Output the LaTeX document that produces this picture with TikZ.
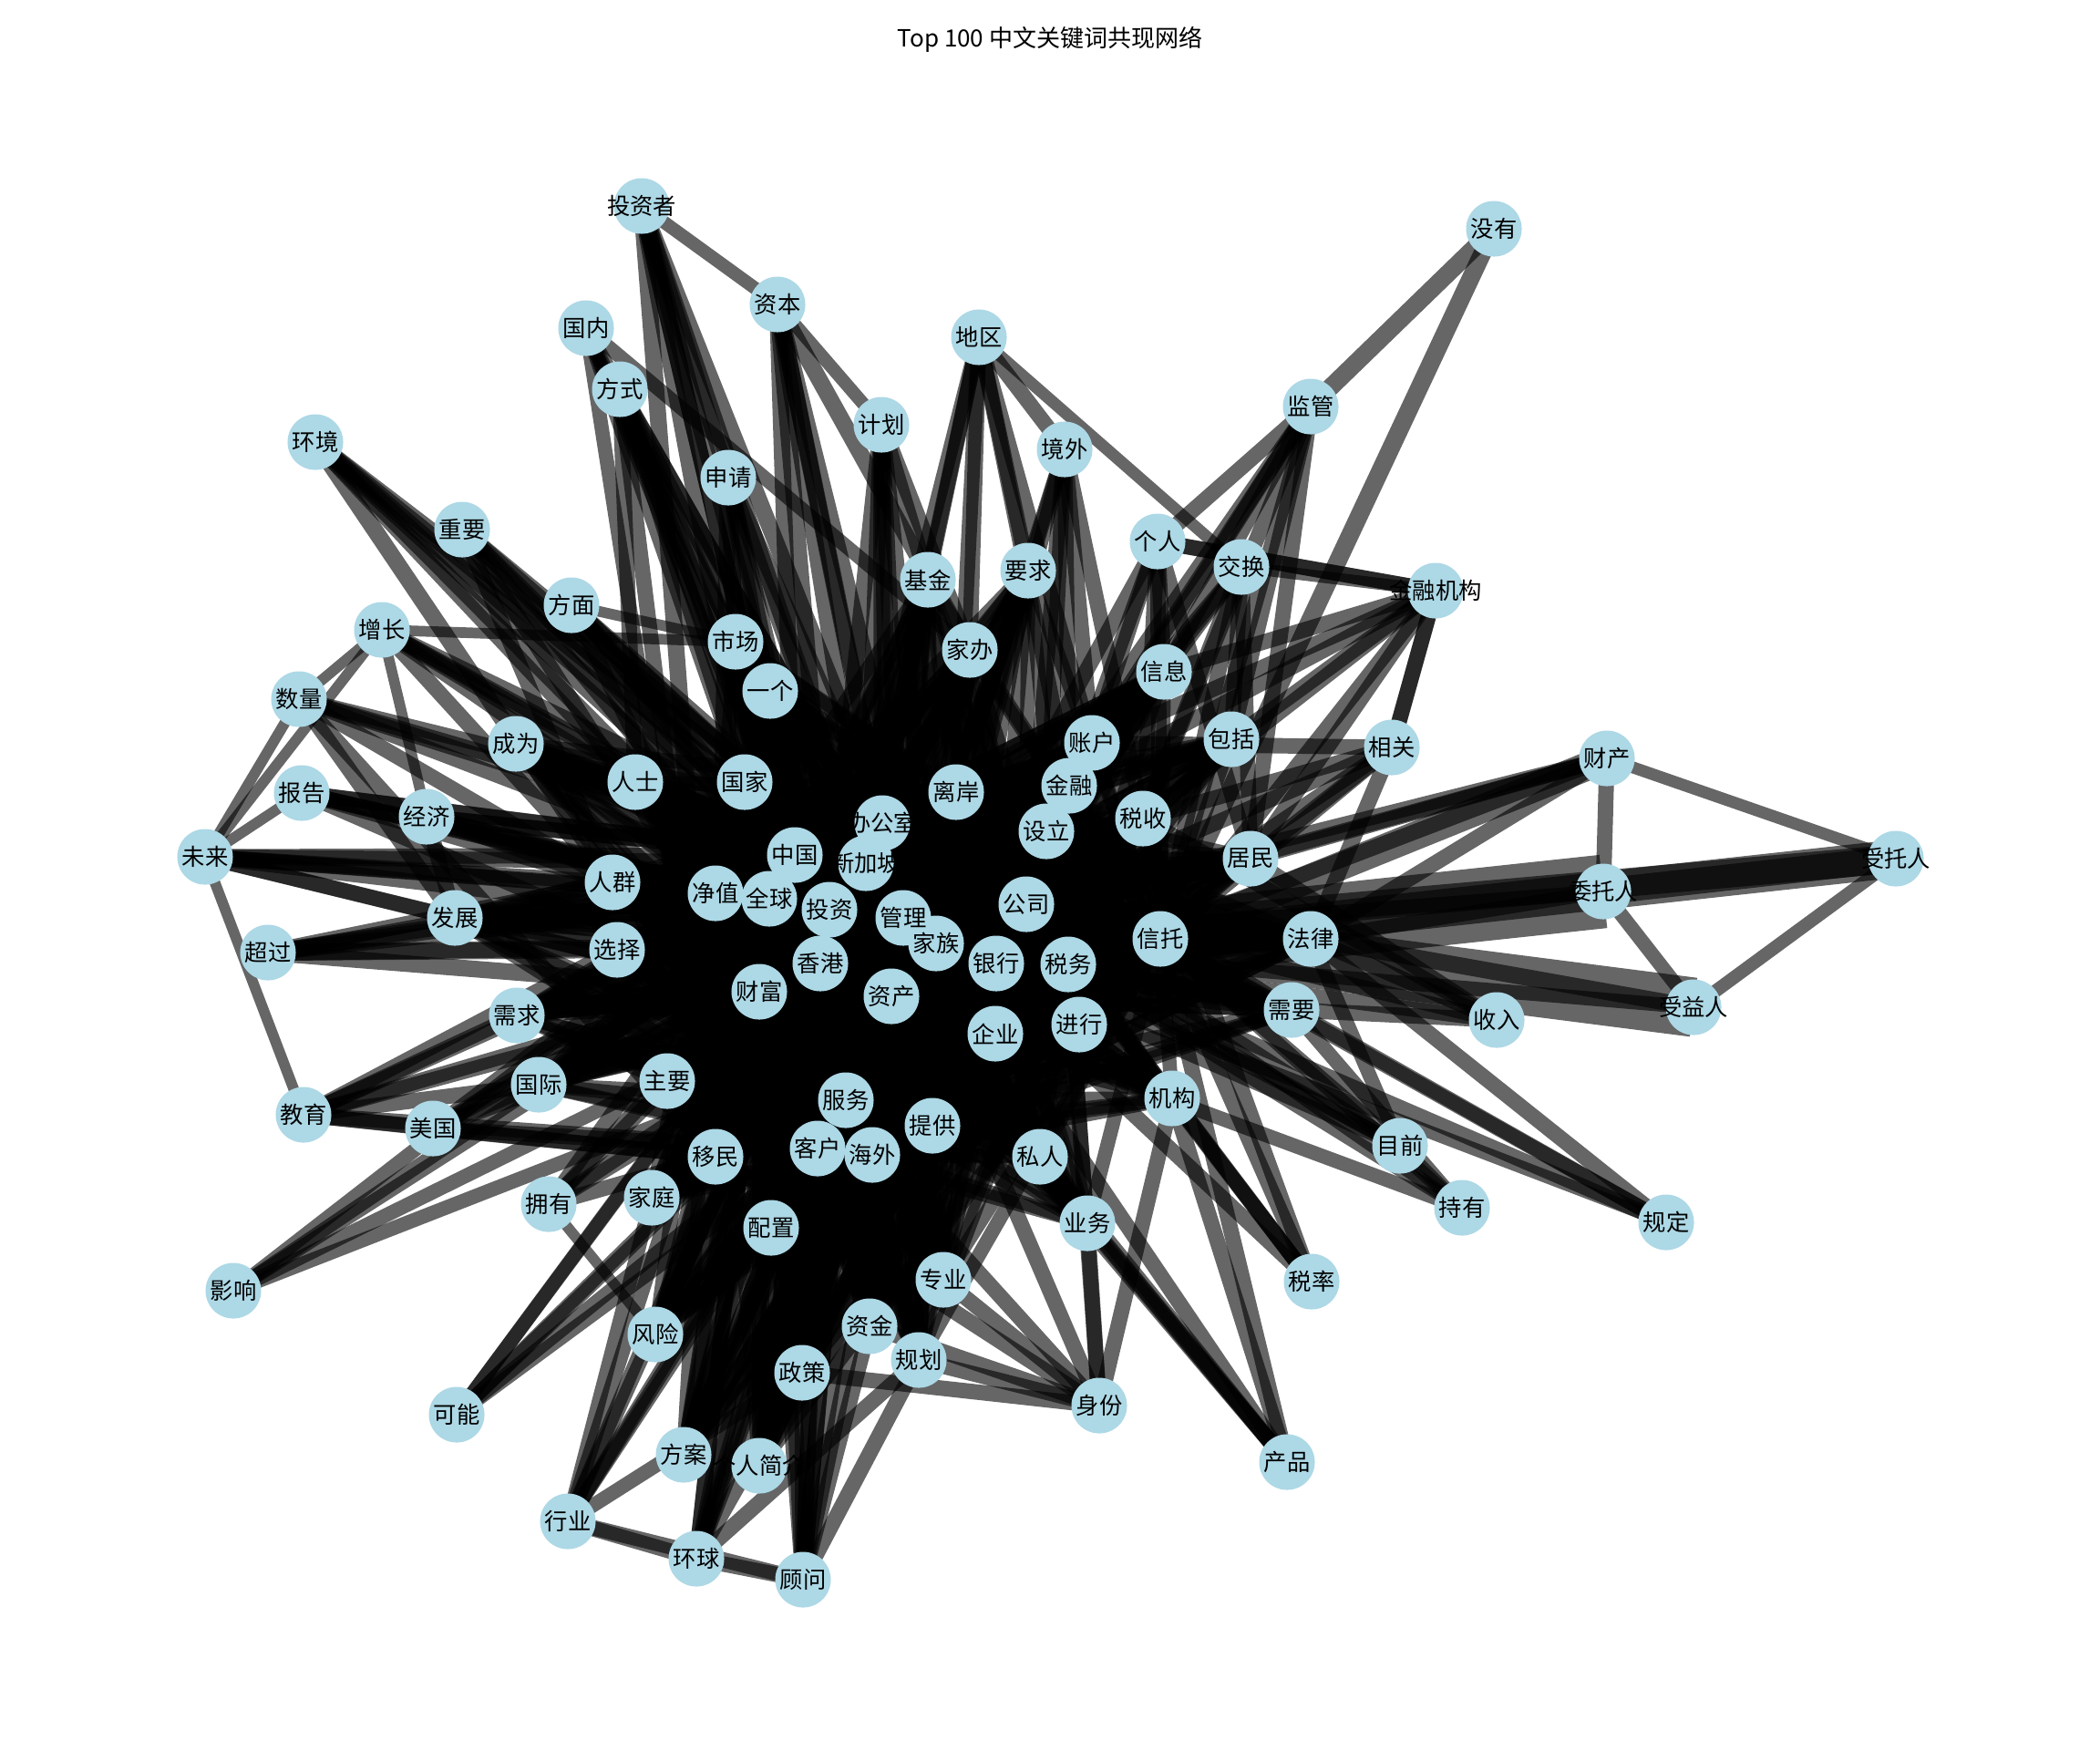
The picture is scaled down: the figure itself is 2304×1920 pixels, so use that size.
\documentclass[tikz,border=0pt]{standalone}
\usepackage{fontspec}
\setmainfont{Noto Sans CJK SC}
\definecolor{nodeblue}{RGB}{173,216,230}
\pgfdeclarelayer{bgl}
\pgfdeclarelayer{edges}
\pgfsetlayers{bgl,edges,main}
\begin{document}
\begin{tikzpicture}[x=0.01cm,y=-0.01cm,
  kw/.style={circle,fill=nodeblue,minimum size=0.61cm,inner sep=0pt},
  lbl/.style={inner sep=0pt,font=\fontsize{7.2}{8}\selectfont},
  edge/.style={draw=black,draw opacity=0.6},
  ttl/.style={inner sep=0pt,font=\fontsize{7.4}{9}\selectfont}]
\begin{pgfonlayer}{bgl}
\fill[white] (0,0) rectangle (2304,1920);
\end{pgfonlayer}
\useasboundingbox (0,0) rectangle (2304,1920);
\node[ttl] (title) at (1152,43) {Top 100 中文关键词共现网络};
\def\kwlist{tzz/投资者/704/226, my/没有/1639/251, zb/资本/853/334, gn/国内/643/360, dq/地区/1074/370, fs/方式/680/427, jg/监管/1438/446, hj/环境/346/485, jh/计划/967/466, jw/境外/1168/493, sq/申请/799/524, zy/重要/507/581, gr/个人/1270/594, jhn/交换/1362/622, jrjg/金融机构/1575/648, jj/基金/1018/636, yq/要求/1128/626, fm/方面/627/664, zz/增长/419/691, sc/市场/807/704, jb/家办/1064/713, xx/信息/1277/737, sl/数量/328/767, yg/一个/845/758, cw/成为/566/816, zh/账户/1198/815, bk/包括/1351/811, xg/相关/1527/820, cc/财产/1763/832, rs/人士/697/858, gj/国家/817/858, la/离岸/1049/869, jr/金融/1173/862, bg/报告/331/870, jjj/经济/468/896, bgs/办公室/968/903, ss/税收/1254/898, sli/设立/1148/912, wl/未来/225/940, zg/中国/872/938, xjp/新加坡/950/947, jm/居民/1372/942, str/受托人/2080/942, wtr/委托人/1759/978, rq/人群/672/968, jz/净值/785/980, qq/全球/844/986, tz/投资/910/998, gl/管理/991/1007, gs/公司/1126/992, fz/发展/499/1007, jzu/家族/1027/1035, xt/信托/1273/1030, fl/法律/1438/1030, cg/超过/294/1045, xz/选择/677/1042, yh/银行/1093/1057, sw/税务/1172/1058, xgg/香港/900/1057, cf/财富/833/1088, zc/资产/978/1093, syr/受益人/1858/1105, xy/需要/1417/1108, sr/收入/1642/1119, xq/需求/567/1114, jx/进行/1184/1124, qy/企业/1092/1134, zyao/主要/732/1186, gjj/国际/591/1190, fw/服务/928/1207, jgo/机构/1286/1205, jy/教育/333/1223, mg/美国/475/1238, tg/提供/1023/1235, kh/客户/897/1260, hw/海外/957/1267, ym/移民/785/1269, sren/私人/1141/1269, mq/目前/1536/1257, yy/拥有/602/1321, jt/家庭/715/1314, cy/持有/1604/1325, gd/规定/1828/1341, yw/业务/1193/1342, pz/配置/846/1347, yx/影响/256/1416, zye/专业/1035/1404, sl2/税率/1439/1406, zj/资金/954/1455, fx/风险/719/1464, zc2/政策/880/1506, gh/规划/1008/1492, kn/可能/501/1552, sf/身份/1206/1542, cp/产品/1412/1604, fa/方案/750/1596, grjj/个人简介/833/1608, hy/行业/623/1669, hq/环球/764/1710, gw/顾问/881/1733}
\foreach \n/\l/\x/\y in \kwlist {\node[kw] (\n) at (\x,\y) {};}
\foreach \n/\l/\x/\y in \kwlist {\node[lbl] (\n-t) at (\n) {\l};}
\def\core{jzu,bgs,xjp,tz,gl,zc,xgg,cf,zg,qq,gs,yh,sw,xt,fw,kh,hw,tg,jz,la}
\def\midl{jr,sli,qy,jx,rq,xz,gj,rs,jb,ym,zyao,pz,sren,zh,ss,yg,xx,bk,jm,zye,zj,gh,zc2,jt,yq,jj,sc,cw,jgo,fl,xy,fz,xq,gjj,yw,fx,fa,grjj}
\begin{pgfonlayer}{edges}
\foreach \a [count=\i] in \core {\foreach \b [count=\j] in \core {\ifnum\j>\i\relax \draw[edge,line width=14*0.37pt] (\a.center) -- (\b.center);\fi}}
\foreach \a in \midl {\foreach \b in \core {\draw[edge,line width=12*0.37pt] (\a.center) -- (\b.center);}}
\foreach \s/\tl/\w in {tzz/{zb}/11, tzz/{tz,xjp,zg,xgg,jzu,ym,sq,qq}/14,
 my/{jg,xt}/15,
 zb/{jh}/11, zb/{tz,gl,bgs,jzu,xjp,zg,jb}/14,
 gn/{zg,hw,tz,sc,jzu,ym,jb}/12,
 dq/{jhn}/10, dq/{jw,jb,jj,xjp,xgg,jr,zh,yq,la}/13,
 fs/{tz,jzu,ym,zg,xgg,rs,gj,sc,xjp}/13,
 jg/{xt,jr,zh,xx,ss,bk,jzu,gr,jm}/13,
 hj/{zg,xjp,jzu,rq,tz,rs,qq}/14,
 jh/{jzu,xjp,bgs,tz,jb,gl,zc,jj}/14,
 jw/{zh,ss,sli,jr,la,jzu,gs,yq}/13,
 sq/{ym,xjp,zg,hw,jzu,tz,sc}/14,
 zy/{jzu,xjp,tz,zg,cf,rq,qq}/13,
 gr/{zh,xx,ss,jm,jr,jrjg,jzu,xt}/13,
 jhn/{jrjg}/10, jhn/{xx,zh,ss,jm,jr,bk,xt}/13,
 jrjg/{zh,xx,ss,jm,jr,bk,xg,gr,xt}/13,
 fm/{jzu,xjp,tz,zg,zc,gl,cf}/13, fm/{sc}/9,
 zz/{sc,sl,wl,jjj}/9, zz/{zg,xjp,jzu,qq,rs,rq}/13,
 sl/{wl}/9, sl/{zg,xjp,jzu,rq,fz,rs,ym}/13,
 bg/{wl}/9, bg/{zg,xjp,qq,jzu,rq,jz,cf}/13,
 jjj/{zg,qq,xjp,jzu,fz,rq,jz}/13,
 wl/{jy}/9, wl/{zg,xjp,jzu,qq,rq,jz,cf,fz}/13,
 cg/{fz}/10, cg/{jz,rq,qq,xjp,cf,jzu,xz}/14,
 jy/{mg,gjj,xq,ym,zg,xjp,xgg,jzu,hw}/13,
 mg/{ym,zg,xjp,jzu,hw,tz,xgg}/13,
 yx/{jzu,xjp,sw,tz,zg}/12,
 kn/{jzu,tz,zc,sw,xjp,fw}/12,
 yy/{fx}/9, yy/{jzu,zg,xjp,zc,cf,ym}/13,
 hy/{hq,gw}/13, hy/{jzu,xjp,tz,qq,zc,fw,jt,zc2}/12,
 hq/{gw}/13, hq/{jzu,xjp,tz,qq,zc,fw,kh,cf,zc2,gh}/13,
 gw/{jzu,xjp,tz,qq,zc,fw,kh,cf,zc2,gh,zj}/13,
 cc/{xt}/24, cc/{jzu,fl,wtr,jm,gs,sw}/13, cc/{str}/10,
 str/{xt}/32, str/{jzu}/24, str/{wtr}/22, str/{syr}/11,
 wtr/{xt}/62, wtr/{syr,fl,jzu}/12,
 syr/{xt}/50, syr/{fl}/14, syr/{jzu}/12,
 xg/{sw,xt,ss,jm,fl,gs,zh,jrjg}/13,
 sr/{xt,sw,fl,xy,ss,jm}/13,
 gd/{xt,fl,xy,sw}/13, gd/{jzu}/11,
 cy/{xt,xy,gs,sw,zc,mq}/12,
 mq/{xt,jzu,sw,xjp,gs,fl}/12,
 sl2/{sw,jgo,xt,xjp,gs,ss}/13,
 cp/{jgo,yw,xt,tz,jzu,zc,sren}/13,
 sf/{jgo,ym,sw,yw,gh,hw,zye,xjp,zj,zc2}/13}
 {\foreach \t in \tl {\draw[edge,line width=\w*0.37pt] (\s.center) -- (\t.center);}}
\end{pgfonlayer}
\end{tikzpicture}
\end{document}
